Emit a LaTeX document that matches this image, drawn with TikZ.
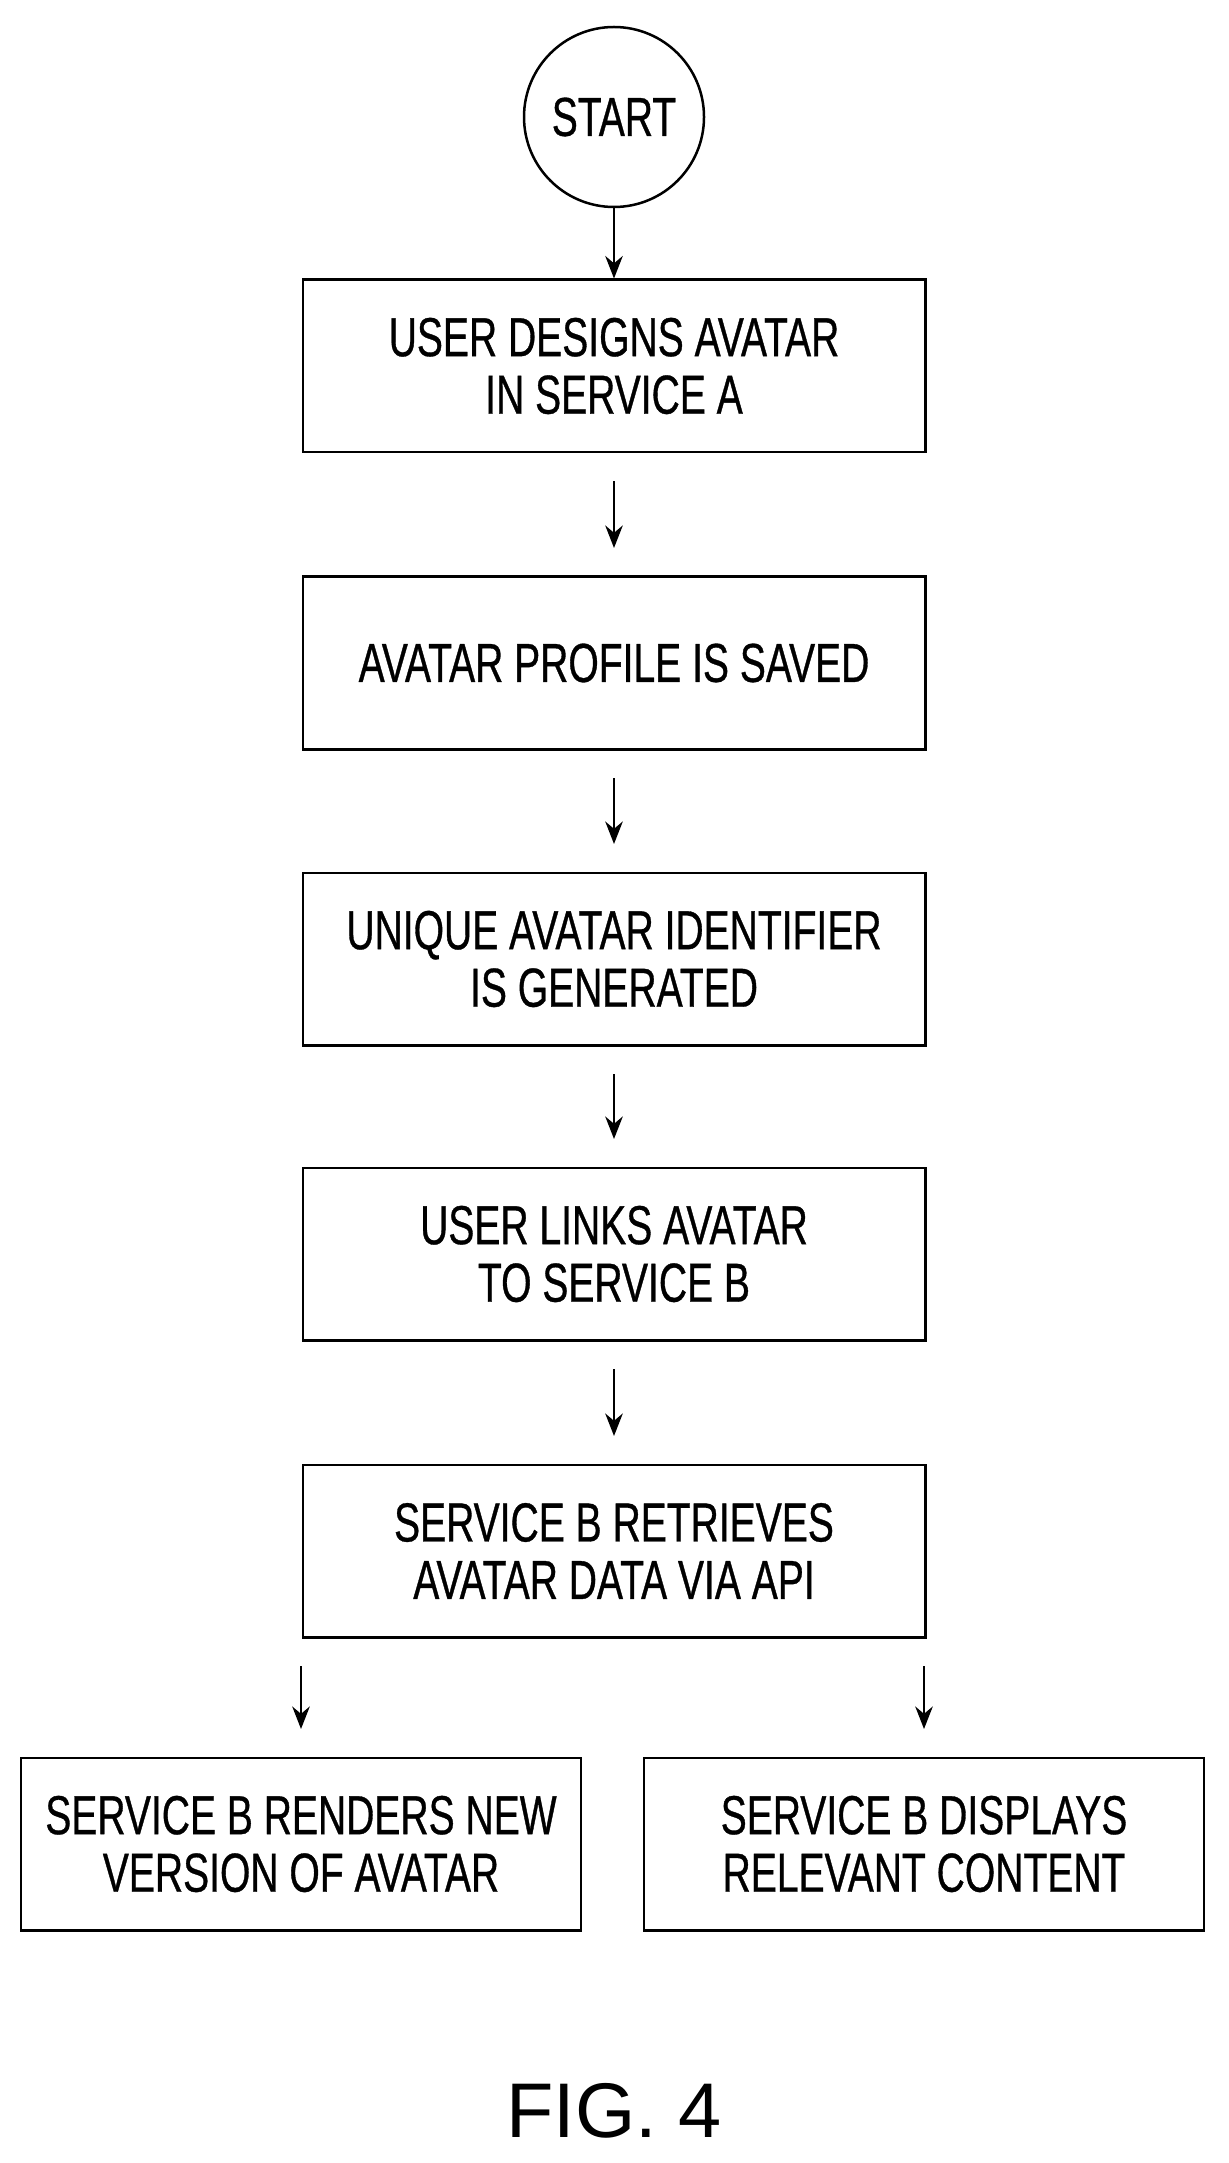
\documentclass[tikz,border=0pt]{standalone}
\usepackage{fontspec}
\setmainfont{Liberation Sans}[FakeStretch=0.71, FakeBold=0.6]
\newfontfamily\figfont{Liberation Sans}
\usetikzlibrary{arrows.meta, positioning}

\tikzset{
  stepbox/.style={draw, line width=1pt, minimum width=249pt, minimum height=69pt,
    align=center, font=\fontsize{22}{23}\selectfont},
  sidebox/.style={stepbox, minimum width=224pt},
  flow/.style={-{Stealth[length=9pt,width=7pt]}, line width=1pt}
}

\begin{document}
\begin{tikzpicture}[x=0.4pt, y=-0.4pt]
  \useasboundingbox (0,0) rectangle (1228,2163);

  % start and the main chain of steps
  \node [circle, draw, line width=1pt, minimum size=72pt,
    font=\fontsize{22}{23}\selectfont] (start) at (614,117) {START};
  \node [stepbox] (design) at (614,366) {USER DESIGNS AVATAR\\IN SERVICE A};
  \node [stepbox] (save) at (614,663) {AVATAR PROFILE IS SAVED};
  \node [stepbox] (ident) at (614,959) {UNIQUE AVATAR IDENTIFIER\\IS GENERATED};
  \node [stepbox] (link) at (614,1254) {USER LINKS AVATAR\\TO SERVICE B};
  \node [stepbox] (fetch) at (614,1551) {SERVICE B RETRIEVES\\AVATAR DATA VIA API};

  % two results
  \node [sidebox] (render) at (301,1844) {SERVICE B RENDERS NEW\\VERSION OF AVATAR};
  \node [sidebox] (show) at (924,1844) {SERVICE B DISPLAYS\\RELEVANT CONTENT};

  \node [font=\figfont\fontsize{31}{33}\selectfont] (fig) at (614,2111) {FIG. 4};

  % arrows
  \draw [flow] (start) -- (design);
  \draw [flow] ([yshift=-11pt]design.south) -- ([yshift=11pt]save.north);
  \draw [flow] ([yshift=-11pt]save.south) -- ([yshift=11pt]ident.north);
  \draw [flow] ([yshift=-11pt]ident.south) -- ([yshift=11pt]link.north);
  \draw [flow] ([yshift=-11pt]link.south) -- ([yshift=11pt]fetch.north);
  \coordinate (forkL) at ([yshift=-11pt]fetch.south -| render.north);
  \coordinate (forkR) at ([yshift=-11pt]fetch.south -| show.north);
  \draw [flow] (forkL) -- ([yshift=11pt]render.north);
  \draw [flow] (forkR) -- ([yshift=11pt]show.north);
\end{tikzpicture}
\end{document}
